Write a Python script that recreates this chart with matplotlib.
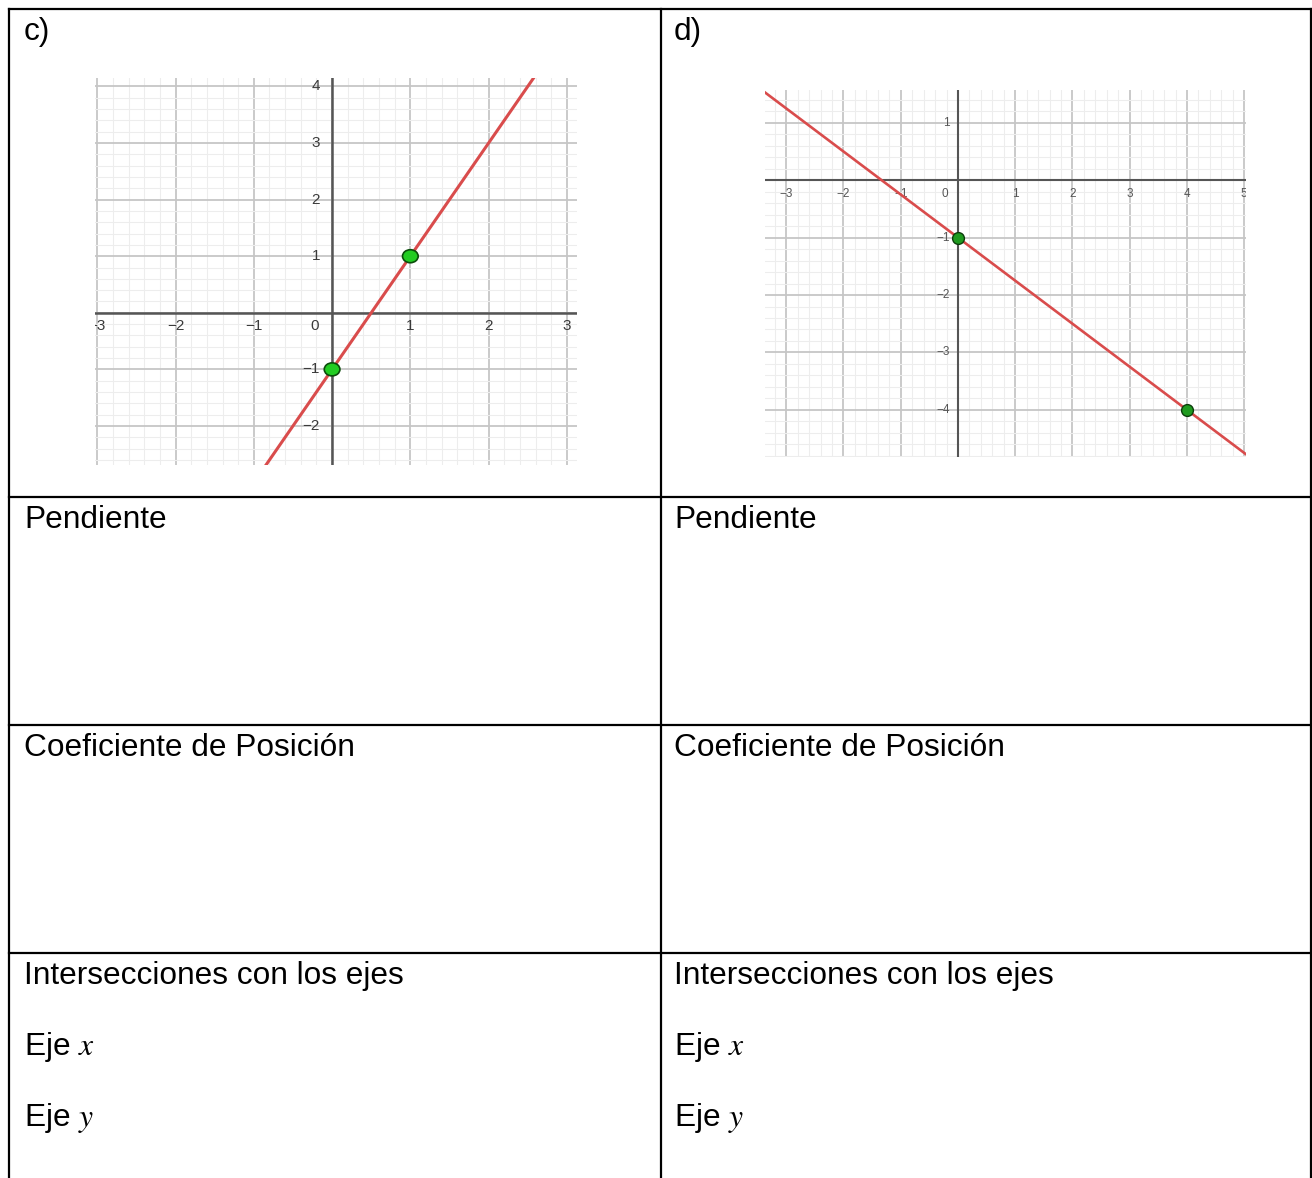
import matplotlib
matplotlib.use("Agg")
import matplotlib.pyplot as plt
from matplotlib.ticker import MultipleLocator
from matplotlib.patches import Ellipse

# ---- data -------------------------------------------------------------
# panel c: line through two marked points
c_points_x = [0, 1]
c_points_y = [-1, 1]
c_xticks = [-3, -2, -1, 1, 2, 3]
c_yticks = [-2, -1, 1, 2, 3, 4]

# panel d: line through two marked points
d_points_x = [0, 4]
d_points_y = [-1, -4]
d_xticks = [-3, -2, -1, 1, 2, 3, 4, 5]
d_yticks = [-4, -3, -2, -1, 1]

panel_labels = ["c)", "d)"]
row_titles = ["Pendiente", "Coeficiente de Posición", "Intersecciones con los ejes"]
axis_rows = ["Eje $x$", "Eje $y$"]

# ---- figure -----------------------------------------------------------
W, H = 1312, 1178
DPI = 100
plt.rcParams["font.family"] = ["Liberation Sans", "DejaVu Sans"]
plt.rcParams["mathtext.fontset"] = "stix"

fig = plt.figure(figsize=(W / DPI, H / DPI), dpi=DPI)
fig.patch.set_facecolor("white")

# background axes in pixel units for the table frame and text
bg = fig.add_axes([0, 0, 1, 1])
bg.set_xlim(0, W)
bg.set_ylim(H, 0)
bg.axis("off")

lw_table = 1.6
left, right, top, mid = 9, 1311, 9, 661
row_lines = [497, 725, 953]
bg.plot([left, right], [top, top], color="black", lw=lw_table, solid_capstyle="projecting")
for x in (left, mid, right):
    bg.plot([x, x], [top, H + 5], color="black", lw=lw_table)
for y in row_lines:
    bg.plot([left, right], [y, y], color="black", lw=lw_table)

fs = 22.8
col_x = [24, 674]
for cx, lab in zip(col_x, panel_labels):
    bg.text(cx, 40, lab, fontsize=fs, va="baseline", ha="left")
    bg.text(cx, 528, row_titles[0], fontsize=fs, va="baseline", ha="left")
    bg.text(cx, 756, row_titles[1], fontsize=fs, va="baseline", ha="left")
    bg.text(cx, 984, row_titles[2], fontsize=fs, va="baseline", ha="left")
    bg.text(cx, 1055, axis_rows[0], fontsize=fs, va="baseline", ha="left")
    bg.text(cx, 1126, axis_rows[1], fontsize=fs, va="baseline", ha="left")


def add_px_axes(l, r, t, b):
    return fig.add_axes([l / W, 1 - b / H, (r - l) / W, (b - t) / H])


def style_grid(ax, axis_lw):
    ax.xaxis.set_major_locator(MultipleLocator(1))
    ax.yaxis.set_major_locator(MultipleLocator(1))
    ax.xaxis.set_minor_locator(MultipleLocator(0.2))
    ax.yaxis.set_minor_locator(MultipleLocator(0.2))
    ax.grid(which="minor", color="#ededed", lw=0.8)
    ax.grid(which="major", color="#c6c6c6", lw=1.3)
    ax.tick_params(which="both", length=0, labelbottom=False, labelleft=False)
    for s in ax.spines.values():
        s.set_visible(False)
    ax.set_axisbelow(True)
    ax.axhline(0, color="#555555", lw=axis_lw, zorder=2)
    ax.axvline(0, color="#555555", lw=axis_lw, zorder=2)


def tick_texts(ax, xt, yt, size, color, xoff, yoff, zero_off):
    for v in xt:
        ax.annotate("\u2212%d" % -v if v < 0 else "%d" % v, (v, 0),
                    xytext=(0, xoff), textcoords="offset pixels",
                    ha="center", va="center", fontsize=size, color=color,
                    annotation_clip=False, clip_on=True, zorder=3)
    for v in yt:
        ax.annotate("\u2212%d" % -v if v < 0 else "%d" % v, (0, v),
                    xytext=(yoff, 0), textcoords="offset pixels",
                    ha="right", va="center", fontsize=size, color=color,
                    clip_on=True, zorder=3)
    ax.annotate("0", (0, 0), xytext=zero_off, textcoords="offset pixels",
                ha="center", va="center", fontsize=size, color=color, zorder=3)


# ---- panel c ----------------------------------------------------------
axc = add_px_axes(95, 577, 78, 465)
axc.set_xlim(-3.03, 3.13)
axc.set_ylim(-2.69, 4.15)
style_grid(axc, 1.8)
tick_texts(axc, c_xticks, c_yticks, 11, "#3a3a3a", -13, -12, (-17, -13))
axc.axline((c_points_x[0], c_points_y[0]), (c_points_x[1], c_points_y[1]),
           color="#d94c4c", lw=2.2, zorder=4)
for px, py in zip(c_points_x, c_points_y):
    axc.add_patch(Ellipse((px, py), 0.2, 0.23, facecolor="#22cc22",
                          edgecolor="#0b4d0b", lw=1.2, zorder=5))

# ---- panel d ----------------------------------------------------------
axd = add_px_axes(765, 1246, 90, 457)
axd.set_xlim(-3.37, 5.03)
axd.set_ylim(-4.82, 1.57)
style_grid(axd, 1.5)
tick_texts(axd, d_xticks, d_yticks, 8.5, "#555555", -14, -8, (-13, -14))
axd.axline((d_points_x[0], d_points_y[0]), (d_points_x[1], d_points_y[1]),
           color="#d94c4c", lw=1.9, zorder=4)
axd.plot(d_points_x, d_points_y, "o", ms=8.5, mfc="#1f9a1f", mec="#0b3d0b",
         mew=1.0, zorder=5, clip_on=False)

fig.savefig("out.png", dpi=DPI, facecolor="white")
